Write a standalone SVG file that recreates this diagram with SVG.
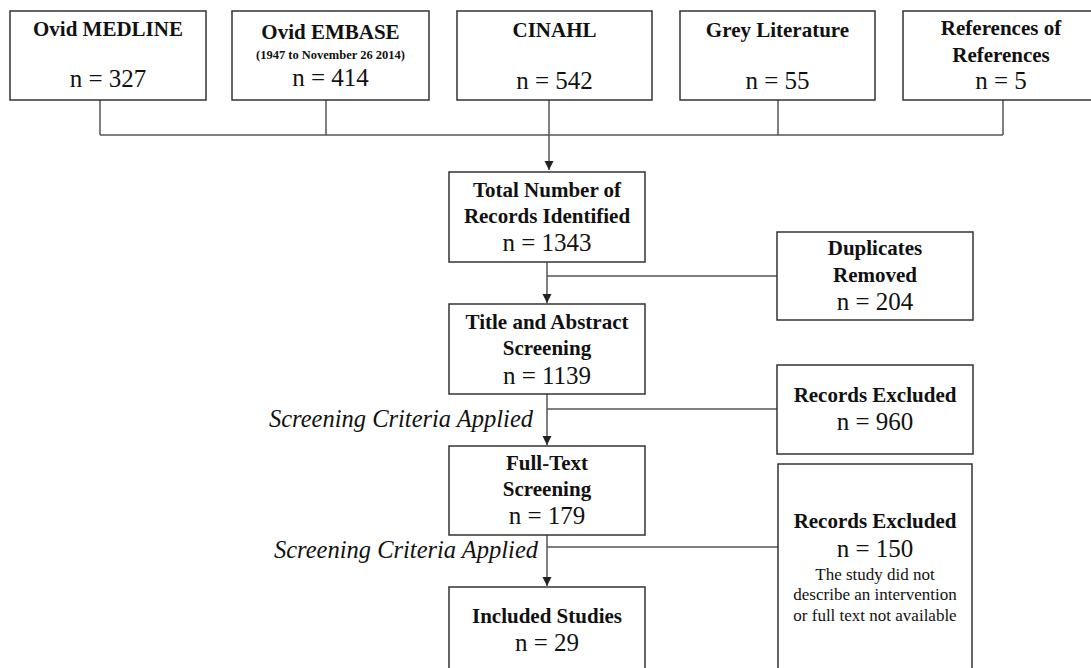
<svg xmlns="http://www.w3.org/2000/svg" width="1091" height="668" viewBox="0 0 1091 668">
<style>
.box{fill:#fff;stroke:#333;stroke-width:1.5}
.t{font-family:"Liberation Serif","Times New Roman",serif;fill:#111;text-anchor:middle}
.b{font-weight:bold;font-size:21px}
.n{font-size:25px}
.s{font-size:17px}
.x{font-weight:bold;font-size:12.5px}
.i{font-style:italic;font-size:24.5px}
.c{fill:none;stroke:#555;stroke-width:1.5}
</style>
<defs>
<marker id="ah" viewBox="0 0 10 10" markerUnits="userSpaceOnUse" markerWidth="9" markerHeight="10" refX="10" refY="5" orient="auto">
<path d="M0,0 L10,5 L0,10 z" fill="#222"/>
</marker>
</defs>
<rect width="1091" height="668" fill="#fff"/>
<g id="connectors">
<path class="c" d="M100,100 V135 M326,100 V135 M778,100 V135 M1003,100 V135 M100,135 H1003"/>
<path class="c" d="M549,100 V170" marker-end="url(#ah)"/>
<path class="c" d="M547,262 V303" marker-end="url(#ah)"/>
<path class="c" d="M547,276 H777"/>
<path class="c" d="M547,394 V445" marker-end="url(#ah)"/>
<path class="c" d="M547,409 H777"/>
<path class="c" d="M547,535 V586" marker-end="url(#ah)"/>
<path class="c" d="M547,547 H778"/>
</g>
<g id="medline"><rect class="box" x="10" y="11" width="196" height="89"/>
<text class="t b" x="108" y="36">Ovid MEDLINE</text><text class="t n" x="108" y="87">n = 327</text></g>
<g id="embase"><rect class="box" x="232" y="11" width="197" height="89"/>
<text class="t b" x="330.5" y="39">Ovid EMBASE</text><text class="t x" x="330.5" y="59">(1947 to November 26 2014)</text><text class="t n" x="330.5" y="86">n = 414</text></g>
<g id="cinahl"><rect class="box" x="457" y="11" width="195" height="89"/>
<text class="t b" x="554.5" y="37">CINAHL</text><text class="t n" x="554.5" y="89">n = 542</text></g>
<g id="grey"><rect class="box" x="680" y="11" width="195" height="89"/>
<text class="t b" x="777.5" y="37">Grey Literature</text><text class="t n" x="777.5" y="89">n = 55</text></g>
<g id="refs"><rect class="box" x="903" y="11" width="196" height="89"/>
<text class="t b" x="1001" y="35">References of</text><text class="t b" x="1001" y="62">References</text><text class="t n" x="1001" y="89">n = 5</text></g>
<g id="total"><rect class="box" x="449" y="172" width="196" height="90"/>
<text class="t b" x="547" y="197">Total Number of</text><text class="t b" x="547" y="223">Records Identified</text><text class="t n" x="547" y="251">n = 1343</text></g>
<g id="duplicates"><rect class="box" x="777" y="232" width="196" height="88"/>
<text class="t b" x="875" y="255">Duplicates</text><text class="t b" x="875" y="282">Removed</text><text class="t n" x="875" y="310">n = 204</text></g>
<g id="title-abstract"><rect class="box" x="449" y="304" width="196" height="90"/>
<text class="t b" x="547" y="329">Title and Abstract</text><text class="t b" x="547" y="355">Screening</text><text class="t n" x="547" y="384">n = 1139</text></g>
<g id="excluded-960"><rect class="box" x="777" y="365" width="196" height="89"/>
<text class="t b" x="875" y="402">Records Excluded</text><text class="t n" x="875" y="430">n = 960</text></g>
<g id="criteria-1"><text class="t i" x="401" y="427">Screening Criteria Applied</text></g>
<g id="full-text"><rect class="box" x="449" y="446" width="196" height="89"/>
<text class="t b" x="547" y="470">Full-Text</text><text class="t b" x="547" y="496">Screening</text><text class="t n" x="547" y="524">n = 179</text></g>
<g id="criteria-2"><text class="t i" x="406" y="558">Screening Criteria Applied</text></g>
<g id="excluded-150"><rect class="box" x="778" y="464" width="194" height="220"/>
<text class="t b" x="875" y="528">Records Excluded</text><text class="t n" x="875" y="557">n = 150</text>
<text class="t s" x="875" y="580">The study did not</text><text class="t s" x="875" y="600">describe an intervention</text><text class="t s" x="875" y="621">or full text not available</text></g>
<g id="included"><rect class="box" x="449" y="587" width="196" height="100"/>
<text class="t b" x="547" y="623">Included Studies</text><text class="t n" x="547" y="651">n = 29</text></g>
</svg>
